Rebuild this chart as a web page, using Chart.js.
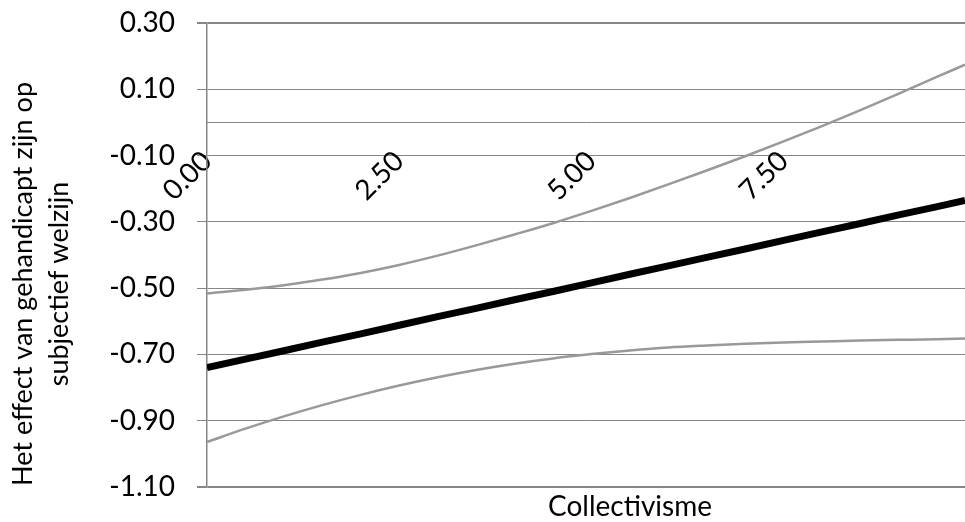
<!DOCTYPE html>
<html>
<head>
<meta charset="utf-8">
<script src="https://cdn.jsdelivr.net/npm/chart.js@4.4.1/dist/chart.umd.min.js"></script>
<style>
  html, body { margin: 0; padding: 0; background: #ffffff; overflow: hidden; }
  #c { display: block; }
</style>
</head>
<body>
<canvas id="c" width="965" height="522"></canvas>
<script>
// Collectivisme scores at which the effect and its confidence band are evaluated
const collectivisme = [0, 0.5, 1.0, 1.5, 2.0, 2.5, 3.0, 3.5, 4.0, 4.5, 5.0,
                       5.5, 6.0, 6.5, 7.0, 7.5, 8.0, 8.5, 9.0, 9.5, 9.86];

// Estimated effect of being handicapped on subjective well-being
const effect = [-0.740, -0.714, -0.689, -0.663, -0.638, -0.612, -0.586, -0.561, -0.535, -0.510, -0.484,
                -0.458, -0.433, -0.407, -0.382, -0.356, -0.330, -0.305, -0.279, -0.254, -0.235];

// Upper and lower bound of the confidence interval
const upperBound = [-0.516, -0.505, -0.491, -0.474, -0.454, -0.430, -0.402, -0.371, -0.338, -0.304, -0.267,
                    -0.228, -0.187, -0.145, -0.102, -0.057, -0.011, 0.037, 0.087, 0.138, 0.174];
const lowerBound = [-0.964, -0.924, -0.887, -0.853, -0.822, -0.794, -0.769, -0.747, -0.728, -0.712, -0.699,
                    -0.688, -0.679, -0.673, -0.668, -0.664, -0.661, -0.658, -0.656, -0.654, -0.652];

// Axis ticks and titles
const xTicks = [0, 2.5, 5.0, 7.5];
const yTicks = [-1.1, -0.9, -0.7, -0.5, -0.3, -0.1, 0.1, 0.3];
const xTitle = 'Collectivisme';
const yTitle = ['Het effect van gehandicapt zijn op', 'subjectief welzijn'];

const FONT = 'Lato';
const FONT_SIZE = 28;
const GRID = '#868686';

const toPoints = (ys) => collectivisme.map((x, i) => ({ x: x, y: ys[i] }));

// Draws the two axis titles (x title below the plot, two-line y title on the left)
const axisTitles = {
  id: 'axisTitles',
  afterDraw(chart) {
    const { ctx, chartArea } = chart;
    ctx.save();
    ctx.fillStyle = '#000000';
    ctx.textAlign = 'center';
    ctx.textBaseline = 'middle';
    ctx.font = FONT_SIZE + 'px ' + FONT;
    ctx.fillText(xTitle, chartArea.left + 423, chartArea.bottom + 20);
    ctx.font = '27px ' + FONT;
    ctx.translate(23, chartArea.top + 261);
    ctx.rotate(-Math.PI / 2);
    ctx.fillText(yTitle[0], 0, 0);
    ctx.fillText(yTitle[1], 0, 36);
    ctx.restore();
  }
};

Chart.defaults.font.family = FONT;
Chart.defaults.font.size = FONT_SIZE;
Chart.defaults.color = '#000000';

const edgeTick = (v) => Math.abs(v - 0.3) < 1e-9 || Math.abs(v + 1.1) < 1e-9;

new Chart(document.getElementById('c'), {
  type: 'line',
  data: {
    datasets: [
      {
        label: 'Bovengrens',
        data: toPoints(upperBound),
        borderColor: '#999999',
        borderWidth: 2.5,
        pointRadius: 0,
        cubicInterpolationMode: 'monotone',
        fill: false
      },
      {
        label: 'Ondergrens',
        data: toPoints(lowerBound),
        borderColor: '#999999',
        borderWidth: 2.5,
        pointRadius: 0,
        cubicInterpolationMode: 'monotone',
        fill: false
      },
      {
        label: 'Effect',
        data: toPoints(effect),
        borderColor: '#000000',
        borderWidth: 7,
        pointRadius: 0,
        fill: false
      }
    ]
  },
  options: {
    responsive: false,
    animation: false,
    events: [],
    layout: { padding: { top: 23, right: 0, bottom: 35, left: 0 } },
    plugins: {
      legend: { display: false },
      tooltip: { enabled: false },
      title: { display: false }
    },
    scales: {
      x: {
        type: 'linear',
        min: collectivisme[0],
        max: collectivisme[collectivisme.length - 1],
        position: { y: 0 },
        afterBuildTicks: (s) => { s.ticks = xTicks.map(v => ({ value: v })); },
        afterFit: (s) => {
          s.height = 0;
          s.paddingLeft = 0; s.paddingRight = 0;
          s.paddingTop = 0; s.paddingBottom = 0;
        },
        ticks: {
          minRotation: 45,
          maxRotation: 45,
          autoSkip: false,
          padding: 22,
          color: '#000000',
          callback: (v) => Number(v).toFixed(2)
        },
        grid: { display: false, drawTicks: false },
        border: { display: true, color: GRID, width: 1 }
      },
      y: {
        type: 'linear',
        position: 'left',
        min: yTicks[0],
        max: yTicks[yTicks.length - 1],
        afterBuildTicks: (s) => { s.ticks = yTicks.map(v => ({ value: v })); },
        afterFit: (s) => {
          s.width = 207;
          s.paddingTop = 0; s.paddingBottom = 0;
        },
        ticks: {
          padding: 22,
          color: '#000000',
          callback: (v) => Number(v).toFixed(2)
        },
        grid: {
          color: GRID,
          lineWidth: (ctx) => (ctx.tick && edgeTick(ctx.tick.value)) ? 2 : 1,
          tickLength: 10,
          drawTicks: true
        },
        border: { display: true, color: GRID, width: 1.5 }
      }
    }
  },
  plugins: [axisTitles]
});
</script>
</body>
</html>
